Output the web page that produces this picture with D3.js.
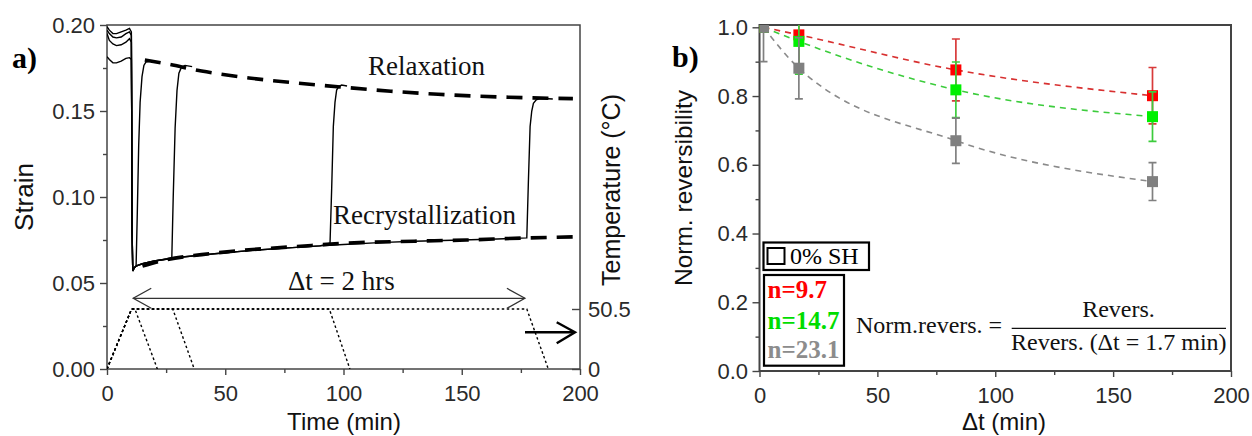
<!DOCTYPE html>
<html><head><meta charset="utf-8">
<script src="https://cdn.jsdelivr.net/npm/d3@7"></script>
<style>
html,body{margin:0;padding:0;background:#fff;}
svg{display:block;}
</style></head>
<body>
<svg id="c" width="1252" height="436"></svg>
<script>
// ---------- Panel a data ----------
const xTicksA = [0, 50, 100, 150, 200];
const xMinorA = [25, 75, 125, 175];
const yTicksA = [0, 0.05, 0.10, 0.15, 0.20];
const yMinorA = [0.025, 0.075, 0.125, 0.175];
const tempTicks = [0, 50.5];

const preT  = [0, 1, 2.5, 4, 6, 8, 9.5, 10.3];
const preA  = [0.199, 0.197, 0.195, 0.195, 0.196, 0.197, 0.198, 0.196];
const preB  = [0.197, 0.195, 0.193, 0.1925, 0.193, 0.195, 0.196, 0.194];
const preC  = [0.195, 0.191, 0.189, 0.188, 0.1885, 0.190, 0.192, 0.190];
const preD  = [0.1816, 0.180, 0.178, 0.178, 0.179, 0.1806, 0.181, 0.180];

const dropT = [10.45, 10.6, 10.9, 11.4];
const dropS = [0.15, 0.08, 0.0570, 0.0585];

const recrystT = [12, 13, 15, 20, 30, 40, 50, 60, 75, 90, 100, 115, 130, 150, 165, 177.5];
const recrystS = [0.0595, 0.0603, 0.0612, 0.0628, 0.0648, 0.0663, 0.0676, 0.0688, 0.0703, 0.0716, 0.0724, 0.0735, 0.0743, 0.0750, 0.0756, 0.0762];

const rise1T = [12.3, 12.8, 13.4, 14.0, 14.8, 15.6, 16.5, 18.5];
const rise1S = [0.0598, 0.090, 0.130, 0.155, 0.170, 0.1765, 0.1785, 0.1790];
const rise2T = [27.4, 28.0, 28.8, 29.6, 30.4, 31.5, 33, 36];
const rise2S = [0.0645, 0.100, 0.140, 0.162, 0.172, 0.1755, 0.1765, 0.1758];
const rise3T = [94.3, 95.0, 95.7, 96.4, 97.1, 98.0, 99.2, 101.5];
const rise3S = [0.0731, 0.105, 0.141, 0.155, 0.1622, 0.1642, 0.1651, 0.1645];
const rise4T = [177.5, 178.2, 178.9, 179.6, 180.3, 181.5, 183.1, 188.5];
const rise4S = [0.0762, 0.110, 0.141, 0.150, 0.1545, 0.1565, 0.1574, 0.1570];

const relaxT = [16, 25, 40, 60, 80, 100, 120, 140, 170, 197];
const relaxS = [0.1797, 0.1775, 0.1732, 0.1692, 0.1663, 0.1638, 0.1615, 0.1597, 0.1580, 0.1572];
const recDashT = [15, 25, 40, 60, 80, 100, 130, 152, 175, 197];
const recDashS = [0.0598, 0.0635, 0.0665, 0.0693, 0.0712, 0.0731, 0.0743, 0.0750, 0.0761, 0.0768];

const tempT1 = [0, 10.4, 11.8, 21.3];
const tempT2 = [0, 10.4, 27.8, 36.9];
const tempT3 = [0, 10.4, 94.0, 102.7];
const tempT4 = [0, 10.4, 177.5, 186.6];
const tempV  = [0, 50.5, 50.5, 0];

const arrowSpan = [11.1, 176.7]; // Δt = 2 hrs arrow (min)

// ---------- Panel b data ----------
const xTicksB = [0, 50, 100, 150, 200];
const xMinorB = [25, 75, 125, 175];
const yTicksB = [0, 0.2, 0.4, 0.6, 0.8, 1.0];
const yMinorB = [0.1, 0.3, 0.5, 0.7, 0.9];
const dtB = [1.7, 16.7, 83.3, 166.7];
const redVals   = [1.0, 0.978, 0.876, 0.801];
const redErr    = [0, 0.104, 0.090, 0.082];
const greenVals = [1.0, 0.959, 0.818, 0.740];
const greenErr  = [0, 0.095, 0.081, 0.072];
const grayVals  = [1.0, 0.881, 0.670, 0.551];
const grayErr   = [0.100, 0.089, 0.066, 0.055];
const legendLabels = ["n=9.7", "n=14.7", "n=23.1"];

// ---------- drawing ----------
const svg = d3.select("#c");
const SANS = "'Liberation Sans', Arial, sans-serif";
const SERIF = "'Liberation Serif', 'Times New Roman', serif";
const AX = "#444";

const xa = d3.scaleLinear().domain([0, 200]).range([107, 580]);
const ya = d3.scaleLinear().domain([0, 0.2]).range([369, 25]);
const ta = d3.scaleLinear().domain([0, 50.5]).range([369, 309]);

const xb = d3.scaleLinear().domain([0, 200]).range([759.5, 1231]);
const yb = d3.scaleLinear().domain([0, 1.0]).range([371, 27.3]);

function styleAxis(g, fs) {
  g.select(".domain").remove();
  g.selectAll("line").attr("stroke", AX).attr("stroke-width", 1.4);
  g.selectAll("text").attr("font-family", SANS).attr("font-size", fs).attr("fill", "#2a2a2a");
}

// ---- Panel a ----
const ga = svg.append("g");
ga.append("clipPath").attr("id", "clipA").append("rect")
  .attr("x", 107).attr("y", 25).attr("width", 473).attr("height", 344);

ga.append("g").attr("transform", "translate(0,369)")
  .call(d3.axisBottom(xa).tickValues(xTicksA).tickSize(6).tickPadding(10).tickFormat(d3.format("d")))
  .call(g => styleAxis(g, 22));
ga.append("g").attr("transform", "translate(0,369)")
  .call(d3.axisBottom(xa).tickValues(xMinorA).tickSize(4).tickFormat(""))
  .call(g => styleAxis(g, 22));
ga.append("g").attr("transform", "translate(107,0)")
  .call(d3.axisLeft(ya).tickValues(yTicksA).tickSize(7).tickPadding(5).tickFormat(d3.format(".2f")))
  .call(g => styleAxis(g, 22));
ga.append("g").attr("transform", "translate(107,0)")
  .call(d3.axisLeft(ya).tickValues(yMinorA).tickSize(4).tickFormat(""))
  .call(g => styleAxis(g, 22));
ga.append("g").attr("transform", "translate(580,0)")
  .call(d3.axisRight(ta).tickValues(tempTicks).tickSize(-8).tickPadding(8).tickFormat(d => d === 0 ? "0" : "50.5"))
  .call(g => styleAxis(g, 22));

ga.append("rect").attr("x", 107).attr("y", 25).attr("width", 473).attr("height", 344)
  .attr("fill", "none").attr("stroke", AX).attr("stroke-width", 1.5);

const lineA = d3.line().x(d => xa(d[0])).y(d => ya(d[1]));
const zip = (T, S) => T.map((t, i) => [t, S[i]]);
const recUpTo = t0 => zip(recrystT, recrystS).filter(d => d[0] < t0);

const strainCurves = [
  zip(preT, preA).concat(zip(dropT, dropS), recUpTo(rise1T[0]), zip(rise1T, rise1S)),
  zip(preT, preB).concat(zip(dropT, dropS), recUpTo(rise2T[0]), zip(rise2T, rise2S)),
  zip(preT, preC).concat(zip(dropT, dropS), recUpTo(rise3T[0]), zip(rise3T, rise3S)),
  zip(preT, preD).concat(zip(dropT, dropS), recUpTo(rise4T[0]), zip(rise4T, rise4S))
];
const plotA = ga.append("g").attr("clip-path", "url(#clipA)");
plotA.selectAll("path.strain").data(strainCurves).join("path")
  .attr("class", "strain").attr("d", lineA)
  .attr("fill", "none").attr("stroke", "#000").attr("stroke-width", 1.4);

const lineT = d3.line().x(d => xa(d[0])).y(d => ta(d[1]));
plotA.selectAll("path.temp").data([tempT1, tempT2, tempT3, tempT4].map(T => zip(T, tempV))).join("path")
  .attr("class", "temp").attr("d", lineT)
  .attr("fill", "none").attr("stroke", "#000").attr("stroke-width", 1.4).attr("stroke-dasharray", "2.5,2.5");

const lineSmooth = d3.line().x(d => xa(d[0])).y(d => ya(d[1])).curve(d3.curveMonotoneX);
plotA.selectAll("path.guide").data([zip(relaxT, relaxS), zip(recDashT, recDashS)]).join("path")
  .attr("class", "guide").attr("d", lineSmooth)
  .attr("fill", "none").attr("stroke", "#000").attr("stroke-width", 3.6).attr("stroke-dasharray", "16,10");

const ay = 298.3;
const ax0 = xa(arrowSpan[0]), ax1 = xa(arrowSpan[1]);
ga.append("line").attr("x1", ax0).attr("x2", ax1).attr("y1", ay).attr("y2", ay)
  .attr("stroke", "#333").attr("stroke-width", 1.3);
ga.append("path").attr("d", `M${ax0 + 18},${ay - 10}L${ax0},${ay}L${ax0 + 18},${ay + 10}`)
  .attr("fill", "none").attr("stroke", "#333").attr("stroke-width", 1.3);
ga.append("path").attr("d", `M${ax1 - 18},${ay - 10}L${ax1},${ay}L${ax1 - 18},${ay + 10}`)
  .attr("fill", "none").attr("stroke", "#333").attr("stroke-width", 1.3);

ga.append("line").attr("x1", 525).attr("x2", 574).attr("y1", 332.3).attr("y2", 332.3)
  .attr("stroke", "#000").attr("stroke-width", 2.4);
ga.append("path").attr("d", "M556.7,322.3L575,332.3L556.7,343.3")
  .attr("fill", "none").attr("stroke", "#000").attr("stroke-width", 2.4);

ga.append("text").attr("x", 368).attr("y", 75).text("Relaxation")
  .attr("font-family", SERIF).attr("font-size", 27).attr("fill", "#111");
ga.append("text").attr("x", 333).attr("y", 224).text("Recrystallization")
  .attr("font-family", SERIF).attr("font-size", 27).attr("fill", "#111");
ga.append("text").attr("x", 288).attr("y", 290).text("Δt = 2 hrs")
  .attr("font-family", SERIF).attr("font-size", 27).attr("fill", "#111");
ga.append("text").attr("x", 12).attr("y", 68).text("a)")
  .attr("font-family", SERIF).attr("font-size", 30).attr("font-weight", "bold");
ga.append("text").attr("transform", "translate(33,197) rotate(-90)").attr("text-anchor", "middle")
  .text("Strain").attr("font-family", SANS).attr("font-size", 26).attr("fill", "#111");
ga.append("text").attr("x", 344).attr("y", 430).attr("text-anchor", "middle")
  .text("Time (min)").attr("font-family", SANS).attr("font-size", 24).attr("fill", "#111");
ga.append("text").attr("transform", "translate(620,190) rotate(-90)").attr("text-anchor", "middle")
  .text("Temperature (°C)").attr("font-family", SANS).attr("font-size", 25).attr("fill", "#111");

// ---- Panel b ----
const gb = svg.append("g");
gb.append("clipPath").attr("id", "clipB").append("rect")
  .attr("x", 759.5).attr("y", 25).attr("width", 471.5).attr("height", 346);

gb.append("g").attr("transform", "translate(0,371)")
  .call(d3.axisBottom(xb).tickValues(xTicksB).tickSize(6).tickPadding(10).tickFormat(d3.format("d")))
  .call(g => styleAxis(g, 22));
gb.append("g").attr("transform", "translate(0,371)")
  .call(d3.axisBottom(xb).tickValues(xMinorB).tickSize(4).tickFormat(""))
  .call(g => styleAxis(g, 22));
gb.append("g").attr("transform", "translate(759.5,0)")
  .call(d3.axisLeft(yb).tickValues(yTicksB).tickSize(7).tickPadding(4.5).tickFormat(d3.format(".1f")))
  .call(g => styleAxis(g, 22));
gb.append("g").attr("transform", "translate(759.5,0)")
  .call(d3.axisLeft(yb).tickValues(yMinorB).tickSize(4).tickFormat(""))
  .call(g => styleAxis(g, 22));
gb.append("rect").attr("x", 759.5).attr("y", 25).attr("width", 471.5).attr("height", 346)
  .attr("fill", "none").attr("stroke", AX).attr("stroke-width", 2);

const plotB = gb.append("g").attr("clip-path", "url(#clipB)");
const seriesB = [
  {vals: redVals, err: redErr, fill: "#ff0000", line: "#d83030", bar: "#d83a3a"},
  {vals: greenVals, err: greenErr, fill: "#00f000", line: "#3ccc3c", bar: "#3ccc3c"},
  {vals: grayVals, err: grayErr, fill: "#808080", line: "#8a8a8a", bar: "#808080"}
];
const lineB = d3.line().x(d => xb(d[0])).y(d => yb(d[1])).curve(d3.curveMonotoneX);
seriesB.forEach(s => {
  plotB.append("path").attr("d", lineB(zip(dtB, s.vals)))
    .attr("fill", "none").attr("stroke", s.line).attr("stroke-width", 1.6).attr("stroke-dasharray", "6,5");
});
seriesB.forEach(s => {
  const g = plotB.append("g");
  dtB.forEach((t, i) => {
    if (s.err[i] <= 0) return;
    const x = xb(t), y0 = yb(s.vals[i] - s.err[i]), y1 = yb(s.vals[i] + s.err[i]);
    g.append("line").attr("x1", x).attr("x2", x).attr("y1", y0).attr("y2", y1)
      .attr("stroke", s.bar).attr("stroke-width", 1.7);
    [y0, y1].forEach(yy => g.append("line").attr("x1", x - 4).attr("x2", x + 4).attr("y1", yy).attr("y2", yy)
      .attr("stroke", s.bar).attr("stroke-width", 1.7));
  });
  g.selectAll("rect").data(zip(dtB, s.vals)).join("rect")
    .attr("x", d => xb(d[0]) - 5.5).attr("y", d => yb(d[1]) - 5.5)
    .attr("width", 11).attr("height", 11).attr("fill", s.fill);
});

gb.append("rect").attr("x", 763.5).attr("y", 242.5).attr("width", 105.5).attr("height", 27.5)
  .attr("fill", "#fff").attr("stroke", "#000").attr("stroke-width", 2.2);
gb.append("rect").attr("x", 767.5).attr("y", 248).attr("width", 17).attr("height", 16)
  .attr("fill", "none").attr("stroke", "#000").attr("stroke-width", 2);
gb.append("text").attr("x", 790).attr("y", 263.5).text("0% SH")
  .attr("font-family", SERIF).attr("font-size", 24).attr("fill", "#000");
gb.append("rect").attr("x", 764).attr("y", 275).attr("width", 80).attr("height", 90.7)
  .attr("fill", "#fff").attr("stroke", "#000").attr("stroke-width", 2.2);
const legColors = ["#ff0000", "#00dd00", "#8c8c8c"];
const legY = [297.5, 328.5, 357.7];
gb.selectAll("text.leg").data(legendLabels).join("text").attr("class", "leg")
  .attr("x", 767.5).attr("y", (d, i) => legY[i]).text(d => d)
  .attr("font-family", SERIF).attr("font-size", 25).attr("font-weight", "bold")
  .attr("fill", (d, i) => legColors[i]);

gb.append("text").attr("x", 856).attr("y", 333.3).text("Norm.revers. =")
  .attr("font-family", SERIF).attr("font-size", 24).attr("fill", "#111");
gb.append("text").attr("x", 1118.5).attr("y", 316.7).attr("text-anchor", "middle").text("Revers.")
  .attr("font-family", SERIF).attr("font-size", 24).attr("fill", "#111");
gb.append("line").attr("x1", 1011.7).attr("x2", 1226).attr("y1", 328.3).attr("y2", 328.3)
  .attr("stroke", "#111").attr("stroke-width", 1.3);
gb.append("text").attr("x", 1118.8).attr("y", 350).attr("text-anchor", "middle").text("Revers. (Δt = 1.7 min)")
  .attr("font-family", SERIF).attr("font-size", 24).attr("fill", "#111");

gb.append("text").attr("x", 672).attr("y", 66.7).text("b)")
  .attr("font-family", SERIF).attr("font-size", 30).attr("font-weight", "bold");
gb.append("text").attr("transform", "translate(692,188) rotate(-90)").attr("text-anchor", "middle")
  .text("Norm. reversibility").attr("font-family", SANS).attr("font-size", 24.5).attr("fill", "#111");
gb.append("text").attr("x", 1004).attr("y", 430).attr("text-anchor", "middle")
  .text("Δt (min)").attr("font-family", SANS).attr("font-size", 24).attr("fill", "#111");
</script>
</body></html>
